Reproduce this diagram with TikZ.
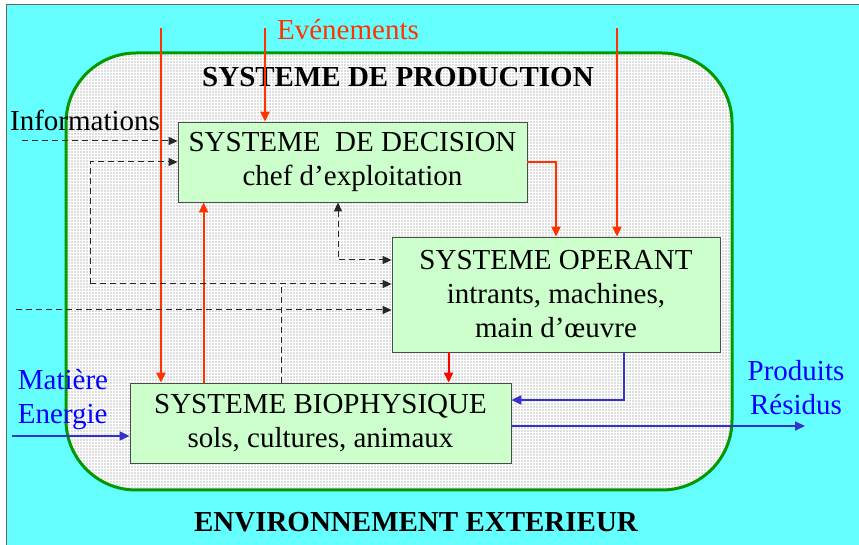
\documentclass[tikz,border=0pt]{standalone}
\usepackage{fontspec}
\setmainfont{Liberation Serif}
\usetikzlibrary{patterns.meta,arrows.meta}
\definecolor{ciel}{HTML}{66FFFF}
\definecolor{vertbord}{HTML}{009900}
\definecolor{boite}{HTML}{CCFFCC}
\definecolor{rouge}{HTML}{FF3300}
\definecolor{bleu}{HTML}{3333CC}
\definecolor{bleutxt}{HTML}{0000FF}

\begin{document}
\begin{tikzpicture}[
  x=0.5pt, y=-0.5pt,
  txt/.style={font=\fontsize{14.5}{17}\selectfont},
  sys/.style={txt,draw=black!70,fill=boite,align=center,inner sep=0pt},
  fl/.style={rouge,line width=1pt,-{Triangle[length=5pt,width=4.5pt]}},
  mat/.style={bleu,line width=1pt,-{Triangle[length=5pt,width=4.5pt]}},
  info/.style={black!85,line width=0.5pt,dash pattern=on 3pt off 2pt,-{Triangle[length=4.5pt,width=4pt]}},
]
  \useasboundingbox (0,0) rectangle (859,545);
  \fill[white] (0,0) rectangle (859,545);
  \fill[ciel] (6,4) rectangle (859,545);
  \draw[black!60] (6,545) -- (6,4) -- (859,4);

  % systeme de production
  \draw[vertbord,line width=1.5pt,fill=white,rounded corners=35pt] (66,53) rectangle (732,490);
  \fill[pattern={Dots[distance=1.5pt,radius=0.35pt]},pattern color=black!55,rounded corners=35pt] (67,54) rectangle (731,489);
  \node[txt,font=\fontsize{14.5}{17}\selectfont\bfseries] (titre) at (398,77) {SYSTEME DE PRODUCTION};
  \node[txt,font=\fontsize{14.5}{17}\selectfont\bfseries] (env) at (416,522) {ENVIRONNEMENT EXTERIEUR};

  \node[sys,minimum width=174.5pt,minimum height=40pt] (sd) at (352.5,162) {SYSTEME\ \ DE DECISION\\chef d’exploitation};
  \node[sys,minimum width=164pt,minimum height=57.5pt] (so) at (556,294.5) {SYSTEME OPERANT\\intrants, machines,\\main d’œuvre};
  \node[sys,minimum width=190.5pt,minimum height=40pt] (sb) at (320.5,423) {SYSTEME BIOPHYSIQUE\\sols, cultures, animaux};

  \node[txt,rouge] (evt) at (348,30) {Evénements};
  \node[txt] (infos) at (85,120) {Informations};
  \node[txt,bleutxt,align=left] (entree) at (63,400) {Matière\\Energie};
  \node[txt,bleutxt,align=center] (sortie) at (796,388) {Produits\\Résidus};

  % evenements
  \coordinate (e1) at (161,28);
  \coordinate (e2) at (265,28);
  \coordinate (e3) at (617,28);
  \draw[fl] (e1) -- (e1 |- sb.north);
  \draw[fl] (e2) -- (e2 |- sd.north);
  \draw[fl] (e3) -- (e3 |- so.north);

  \draw[fl] (sd.east) -| (so.north);
  \path (sb.north west) ++(74,0) coordinate (up1);
  \draw[fl] (up1) -- (up1 |- sd.south);
  \path (so.south west) ++(57,0) coordinate (dn1);
  \draw[fl,red] (dn1) -- (dn1 |- sb.north);

  % informations
  \coordinate (inf) at (22,141);
  \draw[info] (inf) -- (inf -| sd.west);
  \coordinate (k1) at (90,284);
  \coordinate (k2) at (90,162);
  \coordinate (j) at (281,284);
  \draw[info] (k1) -- (k2) -- (k2 -| sd.west);
  \draw[info] (k1) -- (k1 -| so.west);
  \draw[info,-] (sb.north -| j) -- (j);
  \coordinate (ext) at (16,310);
  \draw[info] (ext) -- (ext -| so.west);
  \coordinate (k3) at (338,260);
  \draw[info,{Triangle[length=4.5pt,width=4pt]}-{Triangle[length=4.5pt,width=4pt]}] (sd.south -| k3) -- (k3) -- (k3 -| so.west);

  % matiere
  \coordinate (mat) at (12,436);
  \draw[mat] (mat) -- (mat -| sb.west);
  \path (so.south west) ++(232,0) coordinate (dn2);
  \path (sb.east) ++(0,-23) coordinate (in1);
  \draw[mat] (dn2) |- (in1);
  \path (sb.east) ++(0,3) coordinate (out1);
  \coordinate (prod) at (805,426);
  \draw[mat] (out1) -- (prod);
\end{tikzpicture}
\end{document}
